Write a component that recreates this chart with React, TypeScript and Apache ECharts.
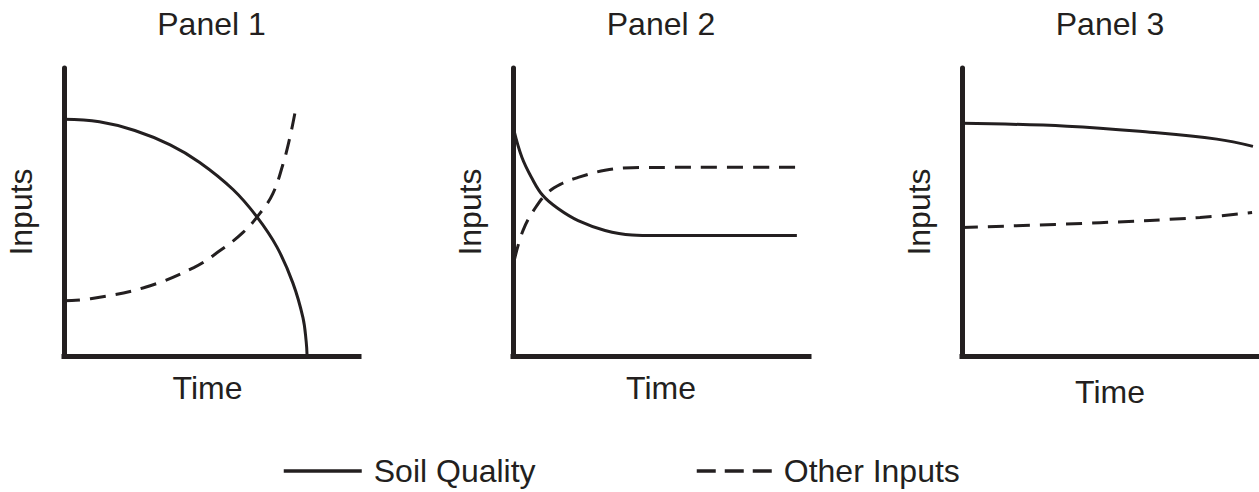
import React, { useEffect, useRef } from "react";
import * as echarts from "echarts";

const panelTitles = ["Panel 1", "Panel 2", "Panel 3"];
const xAxisName = "Time";
const yAxisName = "Inputs";
const seriesNames = ["Soil Quality", "Other Inputs"];

// [time, inputs] pairs (0–100 relative scale)
const soilQuality1 = [
  [0, 82.2], [12, 81.3], [24, 78.3], [36, 73.3], [46, 67.2], [57.3, 57.8],
  [65.4, 48.3], [72.2, 37.8], [77.6, 25.3], [81, 13.3], [82.1, 5], [82.4, 0],
];
const otherInputs1 = [
  [0, 19.2], [9, 19.9], [27, 23.7], [44, 30.7], [52.9, 36.6], [60.7, 42.9], [66.4, 49.5],
  [70.8, 56.4], [74.2, 66.5], [76.6, 76.0], [78.6, 86.1],
];
const soilQuality2 = [
  [0.3, 78.4], [3.0, 69.0], [6.4, 61.7], [10.1, 55.7], [15.2, 51.2], [22.0, 47.0],
  [31.1, 43.6], [40.2, 42.0], [48.0, 41.8], [70, 41.8], [95.9, 41.8],
];
const otherInputs2 = [
  [0.5, 33.5], [3.4, 43.6], [7.4, 51.2], [11.8, 56.8], [16.6, 59.9], [22.0, 62.0],
  [31.1, 64.5], [40.2, 65.4], [60, 65.5], [97.0, 65.5],
];
const soilQuality3 = [
  [0, 80.8], [35.5, 79.8], [63.5, 77.7], [86.1, 75.3], [98.3, 72.8],
];
const otherInputs3 = [
  [0, 44.6], [46.6, 46.3], [80.4, 48.1], [98.0, 49.8],
];

const soilData = [soilQuality1, soilQuality2, soilQuality3];
const otherData = [otherInputs1, otherInputs2, otherInputs3];

const INK = "#231f20";
const FONT = "'Liberation Sans', Arial, sans-serif";
const FS = 32;

const gridLefts = [64, 513, 962];
const gridWidths = [295, 296, 296];
const gridTop = 68;
const gridHeight = 288;

export default function App() {
  const ref = useRef<HTMLDivElement>(null);
  useEffect(() => {
    if (!ref.current) return;
    const chart = echarts.init(ref.current, undefined, { renderer: "svg" });
    const textBase = { color: INK, fontFamily: FONT, fontSize: FS, fontWeight: "normal" as const };

    const grids = gridLefts.map((l, i) => ({
      left: l,
      top: gridTop,
      width: gridWidths[i],
      height: gridHeight,
    }));
    const xAxes = gridLefts.map((_, i) => ({
      type: "value",
      gridIndex: i,
      min: 0,
      max: 100,
      name: xAxisName,
      nameLocation: "middle",
      nameGap: 16,
      nameTextStyle: { ...textBase, padding: i === 0 ? [0, 8, 0, 0] : i === 2 ? [4, 0, 0, 0] : 0 },
      axisLine: { show: true, onZero: false, lineStyle: { color: INK, width: 5, cap: "square" } },
      axisTick: { show: false },
      axisLabel: { show: false },
      splitLine: { show: false },
    }));
    const yAxes = gridLefts.map((_, i) => ({
      type: "value",
      gridIndex: i,
      min: 0,
      max: 100,
      name: yAxisName,
      nameLocation: "middle",
      nameGap: 27,
      nameTextStyle: { ...textBase },
      axisLine: { show: true, onZero: false, lineStyle: { color: INK, width: 5 } },
      axisTick: { show: false },
      axisLabel: { show: false },
      splitLine: { show: false },
    }));
    const series: any[] = [];
    for (let i = 0; i < 3; i++) {
      series.push({
        type: "line",
        name: seriesNames[0],
        xAxisIndex: i,
        yAxisIndex: i,
        data: soilData[i],
        symbol: "none",
        smooth: 0.4,
        lineStyle: { color: INK, width: 3, type: "solid" },
        itemStyle: { color: INK },
        silent: true,
      });
      series.push({
        type: "line",
        name: seriesNames[1],
        xAxisIndex: i,
        yAxisIndex: i,
        data: otherData[i],
        symbol: "none",
        smooth: 0.4,
        lineStyle: { color: INK, width: 3, type: [16, 10] },
        itemStyle: { color: INK },
        silent: true,
      });
    }

    const hiddenDot = { color: "transparent", borderWidth: 0, opacity: 0 };

    chart.setOption({
      animation: false,
      backgroundColor: "#ffffff",
      title: panelTitles.map((t, i) => ({
        text: t,
        left: gridLefts[i] + gridWidths[i] / 2,
        top: 8,
        padding: 0,
        textAlign: "center",
        textStyle: { ...textBase },
      })),
      legend: [
        {
          left: 282,
          top: 455,
          padding: 0,
          selectedMode: false,
          itemWidth: 78,
          itemHeight: 14,
          data: [{ name: seriesNames[0], itemStyle: hiddenDot, lineStyle: { type: "solid", width: 3.5 } }],
          textStyle: { ...textBase, padding: [0, 0, 0, 7] },
        },
        {
          left: 695,
          top: 455,
          padding: 0,
          selectedMode: false,
          itemWidth: 75,
          itemHeight: 14,
          data: [{ name: seriesNames[1], itemStyle: hiddenDot, lineStyle: { type: [19, 9], width: 3.5 } }],
          textStyle: { ...textBase, padding: [0, 0, 0, 7] },
        },
      ],
      grid: grids,
      xAxis: xAxes,
      yAxis: yAxes,
      series,
    });
    return () => chart.dispose();
  }, []);
  return (
    <div
      ref={ref}
      style={{ position: "absolute", left: 0, top: 0, width: 1259, height: 492, background: "#fff" }}
    />
  );
}
